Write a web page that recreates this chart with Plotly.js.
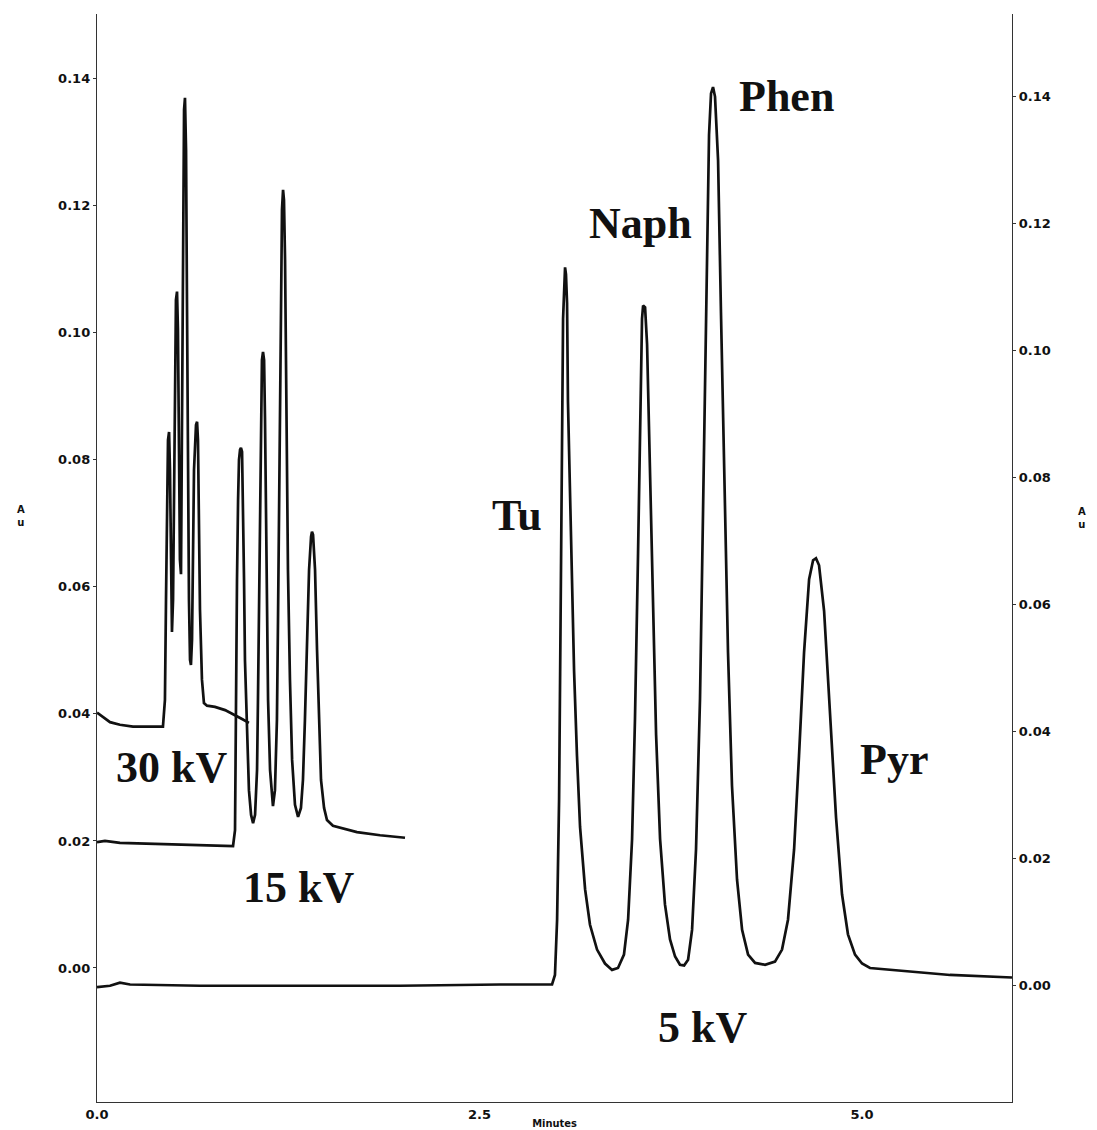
<!DOCTYPE html>
<html>
<head>
<meta charset="utf-8">
<script src="https://cdn.plot.ly/plotly-3.0.1.min.js"></script>
<style>html,body{margin:0;padding:0;background:#fff;}#chart{width:1097px;height:1130px;}</style>
</head>
<body>
<div id="chart"></div>
<script>
// ---- 5 kV electropherogram (read against right-hand axis) ----
var t5 = [0.000,0.085,0.150,0.216,0.673,1.327,1.980,2.634,2.974,2.993,3.007,3.020,3.033,3.039,3.046,3.052,3.059,3.065,3.072,3.078,3.098,3.118,3.137,3.157,3.190,3.222,3.268,3.320,3.366,3.405,3.444,3.471,3.497,3.516,3.536,3.549,3.562,3.569,3.582,3.595,3.614,3.634,3.654,3.680,3.712,3.745,3.778,3.810,3.837,3.863,3.889,3.915,3.941,3.961,3.980,4.000,4.013,4.026,4.039,4.059,4.078,4.098,4.124,4.150,4.183,4.216,4.255,4.301,4.366,4.431,4.477,4.516,4.556,4.588,4.621,4.654,4.680,4.699,4.719,4.752,4.791,4.830,4.869,4.908,4.954,5.000,5.052,5.248,5.575,5.980];
var a5 = [-0.0002,0.0000,0.0005,0.0002,0.0000,0.0000,0.0000,0.0002,0.0002,0.0017,0.0104,0.0294,0.0610,0.0847,0.1050,0.1110,0.1131,0.1120,0.1075,0.0920,0.0690,0.0495,0.0362,0.0250,0.0152,0.0096,0.0057,0.0035,0.0025,0.0028,0.0049,0.0104,0.0231,0.0420,0.0680,0.0905,0.1050,0.1071,0.1068,0.1010,0.0815,0.0590,0.0395,0.0231,0.0128,0.0073,0.0046,0.0033,0.0032,0.0041,0.0088,0.0215,0.0452,0.0750,0.1060,0.1340,0.1405,0.1415,0.1400,0.1300,0.1060,0.0800,0.0525,0.0315,0.0167,0.0088,0.0049,0.0036,0.0033,0.0038,0.0057,0.0104,0.0215,0.0362,0.0525,0.0640,0.0670,0.0673,0.0662,0.0590,0.0430,0.0265,0.0144,0.0081,0.0049,0.0035,0.0028,0.0024,0.0017,0.0013];

// ---- 15 kV electropherogram (left axis) ----
var t15 = [0.000,0.052,0.150,0.412,0.673,0.889,0.902,0.908,0.915,0.922,0.928,0.935,0.941,0.948,0.954,0.961,0.967,0.980,0.993,1.007,1.020,1.033,1.046,1.052,1.059,1.065,1.072,1.078,1.085,1.092,1.098,1.105,1.111,1.118,1.131,1.144,1.150,1.163,1.176,1.183,1.190,1.196,1.203,1.209,1.216,1.222,1.229,1.235,1.242,1.248,1.261,1.275,1.294,1.314,1.333,1.346,1.359,1.373,1.386,1.399,1.405,1.412,1.425,1.438,1.451,1.464,1.484,1.503,1.542,1.621,1.699,1.850,2.013];
var a15 = [0.0198,0.0200,0.0197,0.0195,0.0194,0.0192,0.0217,0.0422,0.0611,0.0737,0.0800,0.0816,0.0819,0.0813,0.0737,0.0611,0.0485,0.0359,0.0280,0.0241,0.0228,0.0241,0.0312,0.0422,0.0580,0.0769,0.0894,0.0957,0.0970,0.0957,0.0863,0.0706,0.0548,0.0422,0.0312,0.0265,0.0255,0.0280,0.0391,0.0548,0.0737,0.0926,0.1083,0.1194,0.1225,0.1209,0.1115,0.0957,0.0784,0.0627,0.0454,0.0328,0.0257,0.0238,0.0252,0.0296,0.0391,0.0517,0.0627,0.0679,0.0687,0.0682,0.0627,0.0501,0.0375,0.0296,0.0252,0.0233,0.0224,0.0219,0.0214,0.0209,0.0205];

// ---- 30 kV electropherogram (left axis) ----
var t30 = [0.000,0.039,0.085,0.150,0.235,0.431,0.444,0.451,0.458,0.464,0.471,0.477,0.484,0.490,0.497,0.503,0.510,0.516,0.523,0.529,0.536,0.542,0.549,0.556,0.562,0.569,0.575,0.582,0.588,0.595,0.601,0.608,0.614,0.621,0.627,0.634,0.647,0.654,0.660,0.667,0.673,0.686,0.699,0.719,0.771,0.837,0.889,0.948,0.993];
var a30 = [0.0402,0.0395,0.0387,0.0383,0.0380,0.0380,0.0422,0.0580,0.0737,0.0831,0.0844,0.0784,0.0643,0.0529,0.0580,0.0769,0.0957,0.1052,0.1065,0.1005,0.0816,0.0643,0.0620,0.0863,0.1178,0.1351,0.1370,0.1288,0.1052,0.0769,0.0580,0.0485,0.0477,0.0517,0.0643,0.0784,0.0855,0.0860,0.0831,0.0706,0.0564,0.0454,0.0417,0.0413,0.0411,0.0406,0.0400,0.0392,0.0386];

// ---- labels ----
var peakLabels = ["Tu", "Naph", "Phen", "Pyr"];
var voltageLabels = ["30 kV", "15 kV", "5 kV"];
var yTicks = [0.00, 0.02, 0.04, 0.06, 0.08, 0.10, 0.12, 0.14];
var xTicks = [0.0, 2.5, 5.0];

var lineStyle = {color: '#111', width: 2.7};
var traces = [
  {x: t30, y: a30, type: 'scatter', mode: 'lines', line: lineStyle, yaxis: 'y', name: voltageLabels[0]},
  {x: t15, y: a15, type: 'scatter', mode: 'lines', line: lineStyle, yaxis: 'y', name: voltageLabels[1]},
  {x: t5,  y: a5,  type: 'scatter', mode: 'lines', line: lineStyle, yaxis: 'y2', name: voltageLabels[2]}
];

var labFont = {family: '"Liberation Serif", "Times New Roman", serif', size: 44, color: '#111', weight: 'bold'};
var tickFont = {family: '"DejaVu Sans", "Liberation Sans", sans-serif', size: 13, color: '#111', weight: 'bold'};
var auFont = {family: '"DejaVu Sans", sans-serif', size: 10, color: '#111', weight: 'bold'};

function lab(text, x, y) {
  return {text: text, x: x, y: y, xref: 'x', yref: 'y', showarrow: false,
          xanchor: 'center', yanchor: 'middle', font: labFont};
}

var layout = {
  width: 1097, height: 1130,
  margin: {l: 97, r: 85, t: 14, b: 28},
  paper_bgcolor: '#fff', plot_bgcolor: '#fff',
  showlegend: false,
  xaxis: {
    range: [0, 5.98], tickvals: xTicks, tickformat: '.1f', ticks: '',
    showline: true, linecolor: '#333', linewidth: 1.2, showgrid: false, zeroline: false,
    tickfont: tickFont, automargin: false,
    title: {text: 'Minutes', font: {family: '"DejaVu Sans Condensed", "DejaVu Sans", sans-serif', size: 11, color: '#111', weight: 'bold'}, standoff: 0}
  },
  yaxis: {
    range: [-0.0211, 0.1502], tickvals: yTicks, tickformat: '.2f',
    ticks: 'outside', ticklen: 3, tickcolor: '#333', tickwidth: 1,
    showline: true, linecolor: '#333', linewidth: 1.2, showgrid: false, zeroline: false,
    tickfont: tickFont, automargin: false
  },
  yaxis2: {
    range: [-0.0183, 0.1530], tickvals: yTicks, tickformat: '.2f',
    overlaying: 'y', side: 'right',
    ticks: 'outside', ticklen: 3, tickcolor: '#333', tickwidth: 1,
    showline: true, linecolor: '#333', linewidth: 1.2, showgrid: false, zeroline: false,
    tickfont: tickFont, automargin: false
  },
  annotations: [
    lab(voltageLabels[0], 0.490, 0.0315),
    lab(voltageLabels[1], 1.314, 0.0126),
    lab(voltageLabels[2], 3.954, -0.0093),
    lab(peakLabels[0], 2.745, 0.0712),
    lab(peakLabels[1], 3.549, 0.1172),
    lab(peakLabels[2], 4.503, 0.1372),
    lab(peakLabels[3], 5.209, 0.0328),
    {text: 'A<br>u', xref: 'paper', yref: 'paper', x: -0.0896, y: 0.539, showarrow: false, font: auFont},
    {text: 'A<br>u', xref: 'paper', yref: 'paper', x: 1.083, y: 0.537, showarrow: false, font: auFont}
  ]
};

Plotly.newPlot('chart', traces, layout, {displayModeBar: false, staticPlot: true});
</script>
</body>
</html>
